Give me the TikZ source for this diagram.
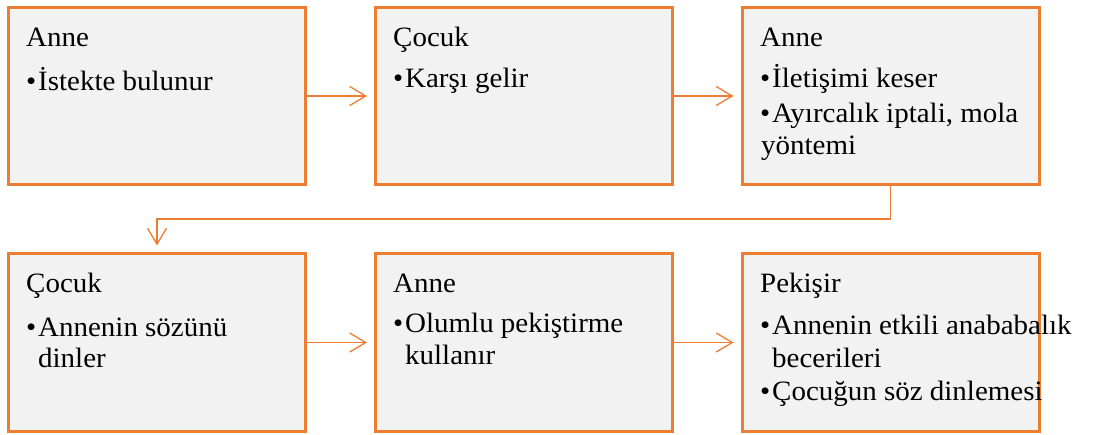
\documentclass[tikz,border=0pt]{standalone}
\usepackage{fontspec}
\setmainfont{Liberation Serif}[FakeStretch=1.035]
\usetikzlibrary{arrows.meta}
\definecolor{acc}{HTML}{ED7D31}
\definecolor{boxfill}{HTML}{F2F2F2}
\begin{document}
\begin{tikzpicture}[x=1pt,y=-1pt,
  box/.style={draw=acc,fill=boxfill,line width=3pt,minimum width=297pt,minimum height=177pt,inner sep=0pt},
  txt/.style={anchor=base west,inner sep=0pt,font=\fontsize{28}{32}\selectfont},
  conn/.style={draw=acc,line width=1.3pt,-{Straight Barb[length=16pt,width=19pt]},shorten >=7pt}]
\useasboundingbox (0,0) rectangle (1116,435);
% boxes
\node[box] (b1) at (157,96) {};
\node[box] (b2) at (524,96) {};
\node[box] (b3) at (890.5,96) {};
\node[box] (b4) at (157,342.5) {};
\node[box] (b5) at (524,342.5) {};
\node[box] (b6) at (890.5,342.5) {};
% box 1
\node[txt] (t1h) at (26,47) {Anne};
\node[txt] (t1b) at (26,91) {•};
\node[txt] (t1a) at (38,91) {İstekte bulunur};
% box 2
\node[txt] (t2h) at (393,47) {Çocuk};
\node[txt] (t2b) at (393,88) {•};
\node[txt] (t2a) at (405,88) {Karşı gelir};
% box 3
\node[txt] (t3h) at (760,47) {Anne};
\node[txt] (t3b1) at (760,88) {•};
\node[txt] (t3a) at (772,88) {İletişimi keser};
\node[txt] (t3b2) at (760,123) {•};
\node[txt] (t3c) at (772,123) {Ayırcalık iptali, mola};
\node[txt] (t3d) at (761,155) {yöntemi};
% box 4
\node[txt] (t4h) at (26,293) {Çocuk};
\node[txt] (t4b) at (26,337) {•};
\node[txt] (t4a) at (38,337) {Annenin sözünü};
\node[txt] (t4c) at (38,367) {dinler};
% box 5
\node[txt] (t5h) at (393,293) {Anne};
\node[txt] (t5b) at (393,333) {•};
\node[txt] (t5a) at (405,333) {Olumlu pekiştirme};
\node[txt] (t5c) at (405,365) {kullanır};
% box 6
\node[txt] (t6h) at (760,293) {Pekişir};
\node[txt] (t6b1) at (760,335) {•};
\node[txt] (t6a) at (772,335) {Annenin etkili anababalık};
\node[txt] (t6c) at (772,367) {becerileri};
\node[txt] (t6b2) at (760,400) {•};
\node[txt] (t6d) at (772,400) {Çocuğun söz dinlemesi};
% connectors
\draw[conn] (b1.east) -- (b2.west);
\draw[conn] (b2.east) -- (b3.west);
\coordinate (m) at (890.5,219);
\draw[conn] (b3.south) -- (b3.south |- m) -| (b4.north);
\draw[conn] (b4.east) -- (b5.west);
\draw[conn] (b5.east) -- (b6.west);
\end{tikzpicture}
\end{document}
